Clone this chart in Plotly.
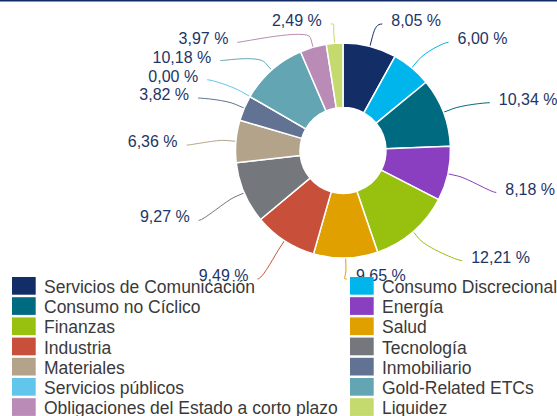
import numpy as np
import plotly.graph_objects as go

# ---------------- data ----------------
categories = [
    "Servicios de Comunicación", "Consumo Discrecional", "Consumo no Cíclico",
    "Energía", "Finanzas", "Salud", "Industria", "Tecnología", "Materiales",
    "Inmobiliario", "Servicios públicos", "Gold-Related ETCs",
    "Obligaciones del Estado a corto plazo", "Liquidez",
]
values = [8.05, 6.00, 10.34, 8.18, 12.21, 9.65, 9.49, 9.27, 6.36, 3.82, 0.00, 10.18, 3.97, 2.49]
colors = [
    "#132d67", "#00b5ec", "#006a80", "#8a3fc0", "#98c00f", "#e0a000", "#c8503a",
    "#74777c", "#b3a38b", "#627293", "#62c6ec", "#64a5b4", "#b98bb6", "#c4d96e",
]
label_texts = [f"{v:.2f}".replace(".", ",") + " %" for v in values]

# ---------------- layout constants (pixels) ----------------
W, H = 557, 416
CX, CY, R = 343, 150.5, 107.5
HOLE = 0.40
LABEL_R = 157
LABEL_DY = 8
Y_MIN, Y_MAX = 24, 279
GAP = 18.3
FONT = "Liberation Sans, Arial, Helvetica, sans-serif"
LABEL_COLOR = "#1d3567"
LEGEND_COLOR = "#3a3a3a"

fig = go.Figure()

fig.add_trace(go.Pie(
    labels=categories, values=values, sort=False, direction="clockwise", rotation=0,
    hole=HOLE, textinfo="none", showlegend=False, hoverinfo="label+value",
    marker=dict(colors=colors, line=dict(color="white", width=1.5)),
    domain=dict(x=[(CX - R) / W, (CX + R) / W], y=[1 - (CY + R) / H, 1 - (CY - R) / H]),
))

# ---------------- label placement (derived from values) ----------------
vals = np.array(values, dtype=float)
total = vals.sum()
cum = np.cumsum(vals) - vals / 2
theta = 2 * np.pi * cum / total
s, c = np.sin(theta), np.cos(theta)
nat_y = CY + LABEL_DY - LABEL_R * c
is_left = s < 0

final_x = np.zeros(len(vals))
final_y = np.zeros(len(vals))
for left in (False, True):
    idx = [i for i in range(len(vals)) if is_left[i] == left]
    idx.sort(key=lambda i: nat_y[i])
    ys = [float(np.clip(nat_y[i], Y_MIN, Y_MAX)) for i in idx]
    for k in range(1, len(ys)):
        ys[k] = max(ys[k], ys[k - 1] + GAP)
    ys[-1] = min(ys[-1], Y_MAX)
    for k in range(len(ys) - 2, -1, -1):
        ys[k] = min(ys[k], ys[k + 1] - GAP)
    for k, i in enumerate(idx):
        y = ys[k]
        yy = nat_y[i] if (abs(y - Y_MIN) < 1e-6 or abs(y - Y_MAX) < 1e-6) else y
        ratio = np.clip((yy - (CY + LABEL_DY)) / LABEL_R, -1, 1)
        dx = LABEL_R * np.cos(np.arcsin(ratio))
        final_x[i] = CX - dx if left else CX + dx
        final_y[i] = y

shapes = []
for i in range(len(vals)):
    tx, ty = CX + R * s[i], CY - R * c[i]
    bx, by = CX + (R + 10) * s[i], CY - (R + 10) * c[i]
    lx, ly = final_x[i], final_y[i]
    c1x = lx + (5 if is_left[i] else -5)
    path = (f"M{lx:.2f},{ly:.2f} C{c1x:.2f},{ly:.2f} {2*bx-tx:.2f},{2*by-ty:.2f} "
            f"{bx:.2f},{by:.2f} L{tx:.2f},{ty:.2f}")
    shapes.append(dict(type="path", path=path, xref="x", yref="y",
                       line=dict(color=colors[i], width=1), layer="below"))

for left in (False, True):
    idx = [i for i in range(len(vals)) if is_left[i] == left]
    fig.add_trace(go.Scatter(
        x=[final_x[i] + (-9 if left else 9) for i in idx],
        y=[final_y[i] - 2 for i in idx],
        text=[label_texts[i] for i in idx],
        mode="text", textposition="middle left" if left else "middle right",
        textfont=dict(family=FONT, size=16, color=LABEL_COLOR),
        hoverinfo="skip", showlegend=False,
    ))

# ---------------- custom legend ----------------
annotations = []
ROW0, PITCH, BOX_H = 277, 20.2, 17.7
COLS = [(12, 35.7, 42.0), (350, 373.7, 380.3)]
for i, name in enumerate(categories):
    row, col = divmod(i, 2)
    x0, x1, xt = COLS[col]
    y0 = ROW0 + PITCH * row
    shapes.append(dict(type="rect", xref="x", yref="y", x0=x0, x1=x1, y0=y0, y1=y0 + BOX_H,
                       fillcolor=colors[i], line=dict(width=0), layer="above"))
    annotations.append(dict(x=xt, y=y0 + BOX_H / 2 + 1.2, xref="x", yref="y", text=name,
                            showarrow=False, xanchor="left", yanchor="middle",
                            font=dict(family=FONT, size=17.5, color=LEGEND_COLOR)))

# top rule
shapes.append(dict(type="rect", xref="x", yref="y", x0=0, x1=W, y0=0, y1=1.5,
                   fillcolor="#132d67", line=dict(width=0), layer="above"))

fig.update_layout(
    width=W, height=H, margin=dict(l=0, r=0, t=0, b=0),
    paper_bgcolor="white", plot_bgcolor="white",
    xaxis=dict(range=[0, W], visible=False, fixedrange=True, domain=[0, 1]),
    yaxis=dict(range=[H, 0], visible=False, fixedrange=True, domain=[0, 1]),
    shapes=shapes, annotations=annotations, showlegend=False,
)

fig.write_html("out.html")
